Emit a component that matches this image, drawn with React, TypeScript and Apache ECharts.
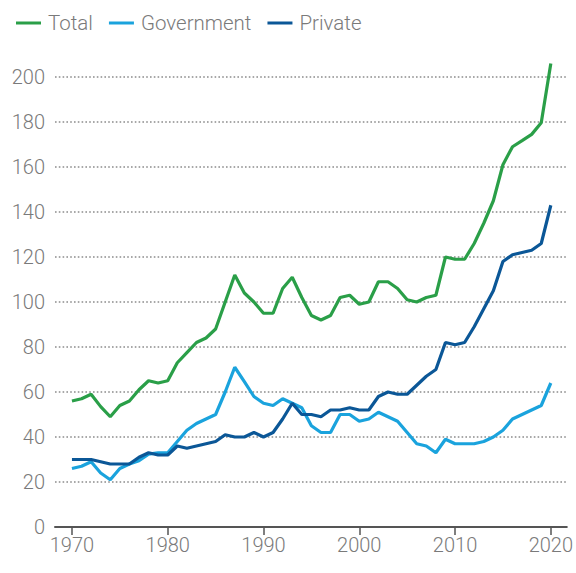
import React, { useEffect, useRef } from "react";
import * as echarts from "echarts";

const years: number[] = Array.from({ length: 51 }, (_, i) => 1970 + i);

const total: number[] = [
  56, 57, 59, 53.5, 49, 54, 56, 61, 65, 64,
  65, 73, 77.5, 82, 84, 88, 100, 112, 104, 100,
  95, 95, 106, 111, 102, 94, 92, 94, 102, 103,
  99, 100, 109, 109, 106, 101, 100, 102, 103, 120,
  119, 119, 126, 135, 145, 161, 169, 171.7, 174.5, 179.7,
  206,
];

const government: number[] = [
  26, 27, 29, 24, 21, 26, 28, 29.5, 32.4, 33,
  33, 38, 43, 46, 48, 50, 60, 71, 64.6, 58,
  55, 54, 57, 55, 53, 45, 42, 42, 50, 50,
  47, 48, 51, 49, 47, 42, 37, 36, 33, 39,
  37, 37, 37, 38, 40, 43, 48, 50, 52, 54,
  64,
];

const privateSec: number[] = [
  30, 30, 30, 29, 28, 28, 28, 31, 33, 32,
  32, 36, 35, 36, 37, 38, 41, 40, 40, 42,
  40, 42, 48, 55, 50, 50, 49, 52, 52, 53,
  52, 52, 58, 60, 59, 59, 63, 67, 70, 82,
  81, 82, 89, 97, 105, 118, 121, 122, 123, 126,
  143,
];

const tickYears: number[] = [1970, 1980, 1990, 2000, 2010, 2020];
const seriesNames: string[] = ["Total", "Government", "Private"];
const seriesColors: string[] = ["#2a9f48", "#1aa3dd", "#0b5797"];

export default function App() {
  const ref = useRef<HTMLDivElement>(null);

  useEffect(() => {
    if (!ref.current) return;
    const chart = echarts.init(ref.current, null, { renderer: "svg" });
    const allData = [total, government, privateSec];
    const font = "Roboto, 'Noto Sans', sans-serif";
    chart.setOption({
      animation: false,
      legend: {
        left: 11,
        top: 6,
        icon: "rect",
        itemWidth: 25,
        itemHeight: 3,
        itemGap: 16,
        textStyle: {
          fontFamily: font,
          fontSize: 20.5,
          fontWeight: 300,
          color: "#7a7a7a",
          lineHeight: 24,
          padding: [0, 0, 0, 2],
        },
        data: seriesNames,
      },
      grid: { left: 55, right: 8, top: 77, bottom: 46, containLabel: false },
      xAxis: {
        type: "value",
        min: 1968.23,
        max: 2021.67,
        splitLine: { show: false },
        axisLine: { show: true, lineStyle: { color: "#555", width: 2 } },
        axisTick: {
          show: true,
          length: 8,
          customValues: tickYears,
          lineStyle: { color: "#555", width: 1.5 },
        },
        axisLabel: {
          customValues: tickYears,
          margin: 8,
          fontFamily: font,
          fontSize: 20,
          fontWeight: 300,
          color: "#7a7a7a",
          formatter: (v: number) => String(v),
        },
      },
      yAxis: {
        type: "value",
        min: 0,
        max: 200,
        interval: 20,
        axisLine: { show: false },
        axisTick: { show: false },
        axisLabel: {
          margin: 10,
          fontFamily: font,
          fontSize: 20,
          fontWeight: 300,
          color: "#7a7a7a",
        },
        splitLine: {
          show: true,
          lineStyle: { color: "#8c8c8c", width: 1.6, type: [1.6, 2.2] },
        },
      },
      series: seriesNames.map((name, k) => ({
        name,
        type: "line",
        clip: false,
        showSymbol: false,
        symbol: "none",
        lineStyle: { width: 3.2, color: seriesColors[k] },
        itemStyle: { color: seriesColors[k] },
        data: years.map((y, i) => [y, allData[k][i]]),
        z: k === 0 ? 3 : k === 1 ? 4 : 5,
      })),
    });
    return () => chart.dispose();
  }, []);

  return (
    <div
      ref={ref}
      style={{ position: "absolute", left: 0, top: 0, width: 576, height: 573 }}
    />
  );
}
